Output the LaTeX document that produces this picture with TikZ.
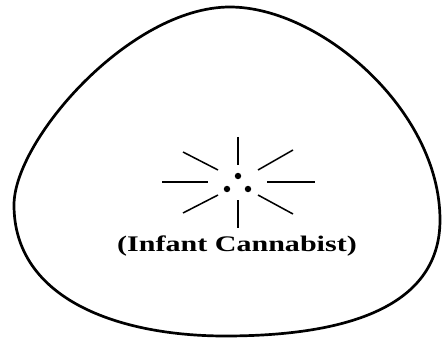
\documentclass[tikz,border=0pt]{standalone}
\usepackage{fontspec}
\setmainfont{Liberation Serif}
\usetikzlibrary{positioning}

\begin{document}
\begin{tikzpicture}[
    x=0.03cm, y=-0.03cm,
    outline/.style={line width=2.3pt, draw=black},
    ray/.style={line width=1.3pt, draw=black},
    dot/.style={circle, fill=black, inner sep=0pt, minimum width=5.5pt},
]
\useasboundingbox (0,0) rectangle (442,338);

% rounded outline
\coordinate (top) at (230,7);
\coordinate (right) at (440,220);
\coordinate (bottom) at (225,336);
\coordinate (left) at (14,205);
\draw[outline] (top)
    .. controls (320,7) and (440,110) .. (right)
    .. controls (440,310) and (340,336) .. (bottom)
    .. controls (120,336) and (14,300) .. (left)
    .. controls (14,140) and (130,7) .. (top) -- cycle;

% rays round the centre
\coordinate (centre) at (238,182);
\draw[ray, line width=1.7pt] (238,137) -- (238,165);
\draw[ray, line width=1.7pt] (238,200) -- (238,228);
\draw[ray] (162,182) -- (208,182);
\draw[ray] (267,182) -- (315,182);
\draw[ray] (183,152) -- (218,170);
\draw[ray] (258,170) -- (293,150);
\draw[ray] (183,213) -- (218,195);
\draw[ray] (258,195) -- (293,214);

% three dots
\node[dot] (dottop) at (238,176) {};
\node[dot] (dotleft) at (227,189) {};
\node[dot] (dotright) at (248,189) {};

\node[font=\bfseries\fontsize{19}{22}\selectfont] (label) at (237,246)
    {\scalebox{1.35}[1]{(Infant Cannabist)}};
\end{tikzpicture}
\end{document}
